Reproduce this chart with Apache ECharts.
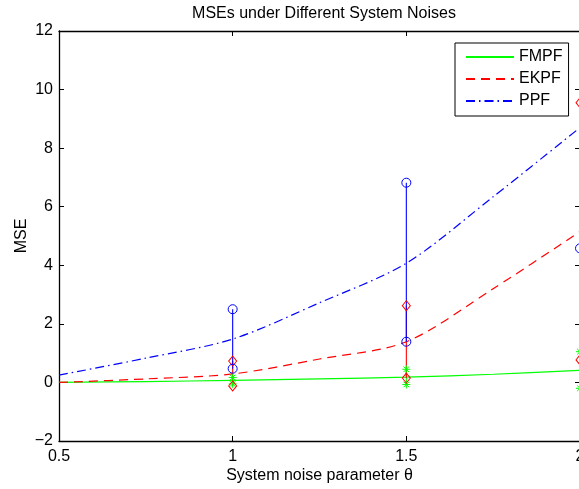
<!DOCTYPE html>
<html>
<head>
<meta charset="utf-8">
<script src="https://cdn.jsdelivr.net/npm/echarts@6/dist/echarts.min.js"></script>
<style>html,body{margin:0;padding:0;background:#fff}#c{width:579px;height:489px}</style>
</head>
<body>
<div id="c"></div>
<script>
// ---- data ----
const xCurve = [0.5, 0.75, 1, 1.25, 1.5, 1.75, 2];
const fmpf = [0, 0.03, 0.07, 0.12, 0.18, 0.28, 0.41];
const ekpf = [0, 0.12, 0.29, 0.8, 1.39, 3.2, 5.15];
const ppf = [0.25, 0.83, 1.48, 2.72, 4.07, 6.34, 8.7];

const barX = [1, 1.5, 2];
const fmpfLow = [-0.05, -0.07, -0.2];
const fmpfHigh = [0.17, 0.45, 1.05];
const ekpfLow = [-0.12, 0.15, 0.77];
const ekpfHigh = [0.73, 2.62, 9.55];
const ppfLow = [0.47, 1.39, 4.58];
const ppfHigh = [2.5, 6.82, 13];

const xTicks = [0.5, 1, 1.5, 2];
const yTicks = [-2, 0, 2, 4, 6, 8, 10, 12];
const seriesNames = ['FMPF', 'EKPF', 'PPF'];

// ---- styles ----
const GREEN = '#00ff00', RED = '#ff0000', BLUE = '#0000ff';
const FONT = 'Liberation Sans, Arial, Helvetica, sans-serif';
const FS = 16;
const asterisk = 'path://M5,0L5,10M0,5L10,5M1.5,1.5L8.5,8.5M1.5,8.5L8.5,1.5';

function zip(xs, ys) { return xs.map((x, i) => [x, ys[i]]); }

const series = [
  { name: seriesNames[0], type: 'line', data: zip(xCurve, fmpf), symbol: 'none', smooth: 0.3,
    lineStyle: { color: GREEN, width: 1.2, type: 'solid' }, itemStyle: { color: GREEN }, z: 2 },
  { name: seriesNames[1], type: 'line', data: zip(xCurve, ekpf), symbol: 'none', smooth: 0.3,
    lineStyle: { color: RED, width: 1.2, type: [9, 6] }, itemStyle: { color: RED }, z: 2 },
  { name: seriesNames[2], type: 'line', data: zip(xCurve, ppf), symbol: 'none', smooth: 0.3,
    lineStyle: { color: BLUE, width: 1.2, type: [9, 4, 1.5, 4] }, itemStyle: { color: BLUE }, z: 2 }
];

const bars = [
  { low: fmpfLow, high: fmpfHigh, color: GREEN, symbol: asterisk, size: 8 },
  { low: ekpfLow, high: ekpfHigh, color: RED, symbol: 'diamond', size: [8, 10] },
  { low: ppfLow, high: ppfHigh, color: BLUE, symbol: 'circle', size: 9 }
];
bars.forEach((b, k) => {
  barX.forEach((x, i) => {
    series.push({
      type: 'line', name: 'bar' + k + '_' + i,
      data: [[x, b.low[i]], [x, b.high[i]]],
      symbol: b.symbol, symbolSize: b.size, showAllSymbol: true,
      lineStyle: { color: b.color, width: 1.1 },
      itemStyle: { color: 'rgba(0,0,0,0)', borderColor: b.color, borderWidth: 1 },
      emphasis: { disabled: true }, silent: true, z: 3, clip: true
    });
  });
});

const axisCommon = {
  axisLine: { show: true, onZero: false, lineStyle: { color: '#000', width: 1.3 } },
  axisTick: { show: true, inside: true, length: 5, lineStyle: { color: '#000', width: 1 } },
  splitLine: { show: false }
};

const option = {
  animation: false,
  backgroundColor: '#fff',
  title: {
    text: 'MSEs under Different System Noises',
    left: 319, top: 1, textAlign: 'center',
    textStyle: { fontFamily: FONT, fontSize: FS, fontWeight: 'normal', color: '#000' }
  },
  legend: {
    data: seriesNames,
    orient: 'vertical', left: 455, top: 43,
    padding: [6, 6, 7, 10], itemGap: 6, itemWidth: 48, itemHeight: 14,
    backgroundColor: '#fff', borderColor: '#000', borderWidth: 1,
    itemStyle: { color: 'rgba(0,0,0,0)', borderColor: 'rgba(0,0,0,0)', borderWidth: 0, opacity: 0 },
    textStyle: { fontFamily: FONT, fontSize: FS, color: '#000' }
  },
  grid: { left: 59, right: -1, top: 31, bottom: 48, containLabel: false, outerBoundsMode: 'none' },
  xAxis: [
    Object.assign({}, axisCommon, {
      type: 'value', min: xTicks[0], max: xTicks[xTicks.length - 1], interval: 0.5,
      position: 'bottom',
      name: 'System noise parameter θ', nameLocation: 'middle', nameGap: 27, nameMoveOverlap: false,
      nameTextStyle: { fontFamily: FONT, fontSize: FS, color: '#000' },
      axisLabel: { fontFamily: FONT, fontSize: FS, color: '#000', margin: 8, hideOverlap: false }
    }),
    Object.assign({}, axisCommon, {
      type: 'value', min: xTicks[0], max: xTicks[xTicks.length - 1], interval: 0.5,
      position: 'top', axisLabel: { show: false }
    })
  ],
  yAxis: [
    Object.assign({}, axisCommon, {
      type: 'value', min: yTicks[0], max: yTicks[yTicks.length - 1], interval: 2,
      position: 'left',
      name: 'MSE', nameLocation: 'middle', nameGap: 29, nameMoveOverlap: false,
      nameTextStyle: { fontFamily: FONT, fontSize: FS, color: '#000' },
      axisLabel: { fontFamily: FONT, fontSize: FS, color: '#000', margin: 6,
        formatter: v => String(v).replace('-', '\u2212') }
    }),
    Object.assign({}, axisCommon, {
      type: 'value', min: yTicks[0], max: yTicks[yTicks.length - 1], interval: 2,
      position: 'right', axisLabel: { show: false }
    })
  ],
  series: series
};

const chart = echarts.init(document.getElementById('c'), null, { renderer: 'canvas' });
chart.setOption(option);
</script>
</body>
</html>
